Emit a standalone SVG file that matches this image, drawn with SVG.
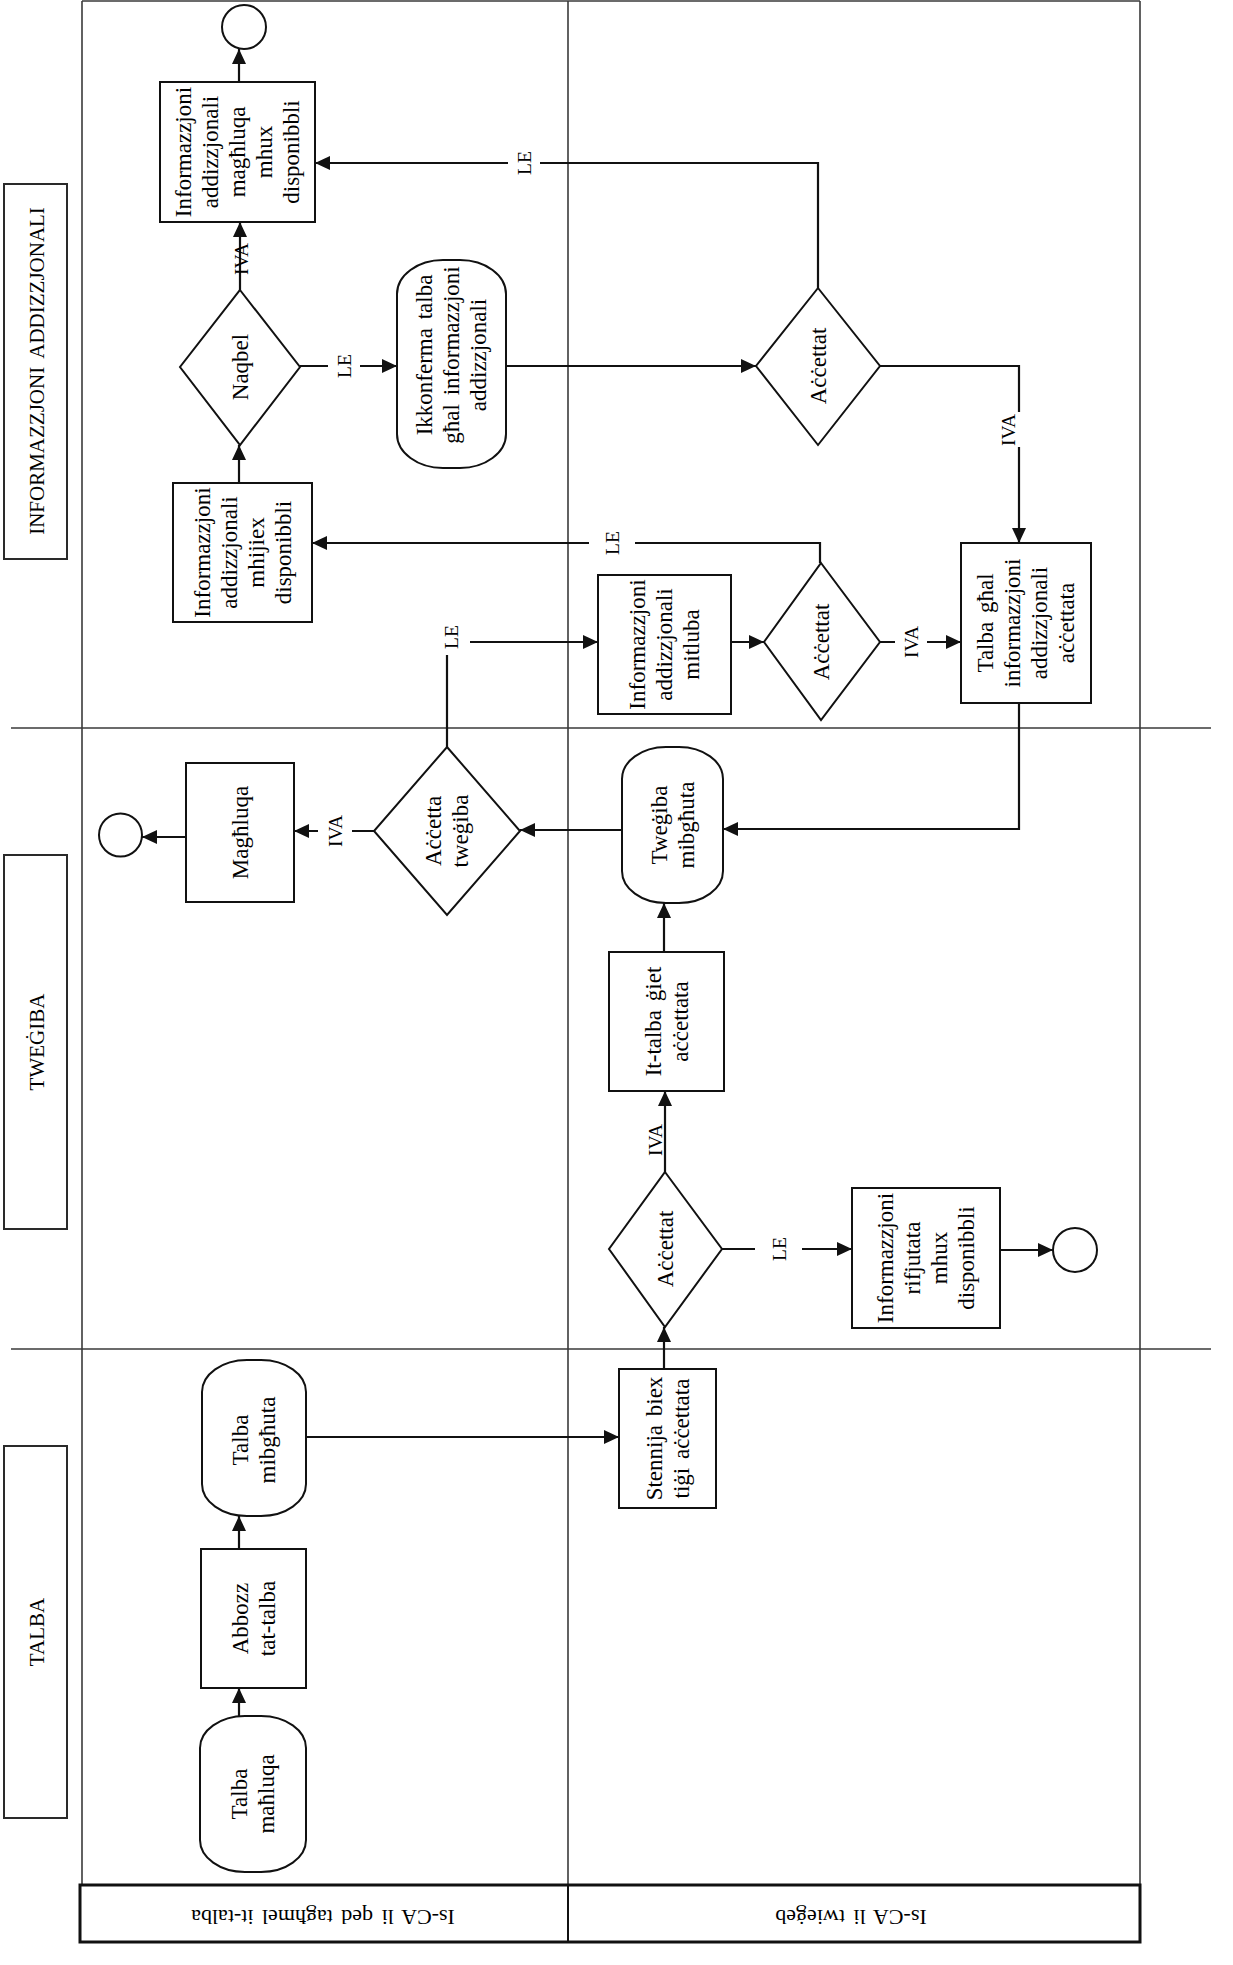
<svg xmlns="http://www.w3.org/2000/svg" width="1233" height="1965" viewBox="0 0 1233 1965">
<defs>
<marker id="ah" markerWidth="15" markerHeight="14" refX="15" refY="7" orient="auto" markerUnits="userSpaceOnUse">
<path d="M0,0 L15,7 L0,14 z" fill="#111"/>
</marker>
<style>
.frame{fill:none;stroke:#3a3a3a;stroke-width:1.6}
.hdr{fill:#fff;stroke:#2a2a2a;stroke-width:2}
.box{fill:#fff;stroke:#111;stroke-width:2}
.ca{fill:none;stroke:#111;stroke-width:2.2;marker-end:url(#ah)}
.t{font-family:"Liberation Serif",serif;font-size:23px;fill:#000;text-anchor:middle;word-spacing:3px}
.h{font-family:"Liberation Serif",serif;font-size:21px;fill:#000;text-anchor:middle;word-spacing:4px}
.l{font-family:"Liberation Serif",serif;font-size:19.5px;fill:#000;text-anchor:middle}
</style>
</defs>
<rect width="1233" height="1965" fill="#fff"/>

<g id="frame">
<line class="frame" x1="82" y1="1" x2="1140" y2="1"/>
<line class="frame" x1="82" y1="1" x2="82" y2="1885"/>
<line class="frame" x1="568" y1="1" x2="568" y2="1942"/>
<line class="frame" x1="1140" y1="1" x2="1140" y2="1942"/>
<line class="frame" x1="11" y1="728" x2="1211" y2="728"/>
<line class="frame" x1="11" y1="1349" x2="1211" y2="1349"/>
<rect x="80" y="1885" width="1060" height="57" fill="none" stroke="#111" stroke-width="3"/>
<line x1="568" y1="1885" x2="568" y2="1942" stroke="#111" stroke-width="2"/>
</g>

<g id="lane-label-1">
<text class="t" style="font-size:22px" transform="translate(323,1917) rotate(180)" y="7.5">Is-CA li qed tagħmel it-talba</text>
</g>
<g id="lane-label-2">
<text class="t" style="font-size:22px" transform="translate(851,1917) rotate(180)" y="7.5">Is-CA li twieġeb</text>
</g>

<g id="hdr-info">
<rect class="hdr" x="4" y="184" width="63" height="375"/>
<text class="h" transform="translate(36,371) rotate(-90)" y="7.5">INFORMAZZJONI ADDIZZJONALI</text>
</g>
<g id="hdr-tweg">
<rect class="hdr" x="4" y="855" width="63" height="374"/>
<text class="h" transform="translate(36,1042) rotate(-90)" y="7.5">TWEĠIBA</text>
</g>
<g id="hdr-talba">
<rect class="hdr" x="4" y="1446" width="63" height="372"/>
<text class="h" transform="translate(36,1632) rotate(-90)" y="7.5">TALBA</text>
</g>

<g id="connectors">
<path class="ca" d="M239,82 V49"/>
<path class="ca" d="M240,290 V222"/>
<path class="ca" d="M300,366 H328 M360,366 H397"/>
<path class="ca" d="M506,366 H756"/>
<path class="ca" d="M818,288 V163 H540 M508,163 H315"/>
<path class="ca" d="M880,366 H1019 V412 M1019,447 V543"/>
<path class="ca" d="M731,642 H764"/>
<path class="ca" d="M820,563 V543 H635 M589,543 H312"/>
<path class="ca" d="M880,642 H895 M927,642 H961"/>
<path class="ca" d="M1019,703 V829 H723"/>
<path class="ca" d="M622,830 H520"/>
<path class="ca" d="M447,747 V655 M470,642 H598"/>
<path class="ca" d="M374,831 H352 M318,831 H294"/>
<path class="ca" d="M186,837 H142"/>
<path class="ca" d="M664,952 V903"/>
<path class="ca" d="M665,1172 V1091"/>
<path class="ca" d="M664,1369 V1327"/>
<path class="ca" d="M722,1249 H755 M802,1249 H852"/>
<path class="ca" d="M1000,1250 H1053"/>
<path class="ca" d="M306,1437 H619"/>
<path class="ca" d="M239,1549 V1516"/>
<path class="ca" d="M239,1716 V1688"/>
<path class="ca" d="M239,483 V445"/>
<text class="l" transform="translate(241,259) rotate(-90)" y="6.5">IVA</text>
<text class="l" transform="translate(344,366) rotate(-90)" y="6.5">LE</text>
<text class="l" transform="translate(524,163) rotate(-90)" y="6.5">LE</text>
<text class="l" transform="translate(1008,430) rotate(-90)" y="6.5">IVA</text>
<text class="l" transform="translate(612,543) rotate(-90)" y="6.5">LE</text>
<text class="l" transform="translate(911,642) rotate(-90)" y="6.5">IVA</text>
<text class="l" transform="translate(451,637) rotate(-90)" y="6.5">LE</text>
<text class="l" transform="translate(335,831) rotate(-90)" y="6.5">IVA</text>
<text class="l" transform="translate(655,1140) rotate(-90)" y="6.5">IVA</text>
<text class="l" transform="translate(779,1249) rotate(-90)" y="6.5">LE</text>
</g>

<g id="end-1"><circle class="box" cx="244" cy="27" r="22"/></g>

<g id="n-maghluqa-ad">
<rect class="box" x="160" y="82" width="155" height="140"/>
<text class="t" transform="translate(237.5,152) rotate(-90)"><tspan x="0" y="-46.5">Informazzjoni</tspan><tspan x="0" y="-19.5">addizzjonali</tspan><tspan x="0" y="7.5">magħluqa</tspan><tspan x="0" y="34.5">mhux</tspan><tspan x="0" y="61.5">disponibbli</tspan></text>
</g>

<g id="n-naqbel">
<polygon class="box" points="240,290 300,367 240,445 180,367"/>
<text class="t" transform="translate(240,367) rotate(-90)" y="7.5">Naqbel</text>
</g>

<g id="n-ikkonferma">
<rect class="box" x="397" y="260" width="109" height="208" rx="46" ry="34"/>
<text class="t" transform="translate(451.5,355) rotate(-90)"><tspan x="0" y="-19.5">Ikkonferma talba</tspan><tspan x="0" y="7.5">għal informazzjoni</tspan><tspan x="0" y="34.5">addizzjonali</tspan></text>
</g>

<g id="n-mhijiex">
<rect class="box" x="173" y="483" width="139" height="139"/>
<text class="t" transform="translate(242.5,552.5) rotate(-90)"><tspan x="0" y="-33">Informazzjoni</tspan><tspan x="0" y="-6">addizzjonali</tspan><tspan x="0" y="21">mhijiex</tspan><tspan x="0" y="48">disponibbli</tspan></text>
</g>

<g id="n-accettat-1">
<polygon class="box" points="818,288 880,366 818,445 756,366"/>
<text class="t" transform="translate(818,366) rotate(-90)" y="7.5">Aċċettat</text>
</g>

<g id="n-mitluba">
<rect class="box" x="598" y="575" width="133" height="139"/>
<text class="t" transform="translate(664.5,644.5) rotate(-90)"><tspan x="0" y="-19.5">Informazzjoni</tspan><tspan x="0" y="7.5">addizzjonali</tspan><tspan x="0" y="34.5">mitluba</tspan></text>
</g>

<g id="n-accettat-2">
<polygon class="box" points="821,563 880,642 821,720 764,642"/>
<text class="t" transform="translate(821,642) rotate(-90)" y="7.5">Aċċettat</text>
</g>

<g id="n-talba-ghal">
<rect class="box" x="961" y="543" width="130" height="160"/>
<text class="t" transform="translate(1026,623) rotate(-90)"><tspan x="0" y="-33">Talba għal</tspan><tspan x="0" y="-6">informazzjoni</tspan><tspan x="0" y="21">addizzjonali</tspan><tspan x="0" y="48">aċċettata</tspan></text>
</g>

<g id="n-accetta-twegiba">
<polygon class="box" points="447,747 520,831 447,915 374,831"/>
<text class="t" transform="translate(447,831) rotate(-90)"><tspan x="0" y="-6">Aċċetta</tspan><tspan x="0" y="21">tweġiba</tspan></text>
</g>

<g id="n-maghluqa">
<rect class="box" x="186" y="763" width="108" height="139"/>
<text class="t" transform="translate(240,832.5) rotate(-90)" y="7.5">Magħluqa</text>
</g>

<g id="end-2"><circle class="box" cx="120.5" cy="835" r="21.5"/></g>

<g id="n-twegiba-mibghuta">
<rect class="box" x="622" y="747" width="101" height="156" rx="44" ry="32"/>
<text class="t" transform="translate(672.5,825) rotate(-90)"><tspan x="0" y="-6">Tweġiba</tspan><tspan x="0" y="21">mibgħuta</tspan></text>
</g>

<g id="n-it-talba">
<rect class="box" x="609" y="952" width="115" height="139"/>
<text class="t" transform="translate(666.5,1021.5) rotate(-90)"><tspan x="0" y="-6">It-talba ġiet</tspan><tspan x="0" y="21">aċċettata</tspan></text>
</g>

<g id="n-accettat-3">
<polygon class="box" points="665,1172 722,1249 665,1327 609,1249"/>
<text class="t" transform="translate(665,1249) rotate(-90)" y="7.5">Aċċettat</text>
</g>

<g id="n-rifjutata">
<rect class="box" x="852" y="1188" width="148" height="140"/>
<text class="t" transform="translate(926,1258) rotate(-90)"><tspan x="0" y="-33">Informazzjoni</tspan><tspan x="0" y="-6">rifjutata</tspan><tspan x="0" y="21">mhux</tspan><tspan x="0" y="48">disponibbli</tspan></text>
</g>

<g id="end-3"><circle class="box" cx="1075" cy="1250" r="22"/></g>

<g id="n-stennija">
<rect class="box" x="619" y="1369" width="97" height="139"/>
<text class="t" transform="translate(667.5,1438.5) rotate(-90)"><tspan x="0" y="-6">Stennija biex</tspan><tspan x="0" y="21">tiġi aċċettata</tspan></text>
</g>

<g id="n-talba-mibghuta">
<rect class="box" x="202" y="1360" width="104" height="156" rx="45" ry="32"/>
<text class="t" transform="translate(254,1440) rotate(-90)"><tspan x="0" y="-6">Talba</tspan><tspan x="0" y="21">mibgħuta</tspan></text>
</g>

<g id="n-abbozz">
<rect class="box" x="201" y="1549" width="105" height="139"/>
<text class="t" transform="translate(253.5,1618.5) rotate(-90)"><tspan x="0" y="-6">Abbozz</tspan><tspan x="0" y="21">tat-talba</tspan></text>
</g>

<g id="n-talba-mahluqa">
<rect class="box" x="200" y="1716" width="106" height="156" rx="45" ry="32"/>
<text class="t" transform="translate(253,1794) rotate(-90)"><tspan x="0" y="-6">Talba</tspan><tspan x="0" y="21">maħluqa</tspan></text>
</g>
</svg>
